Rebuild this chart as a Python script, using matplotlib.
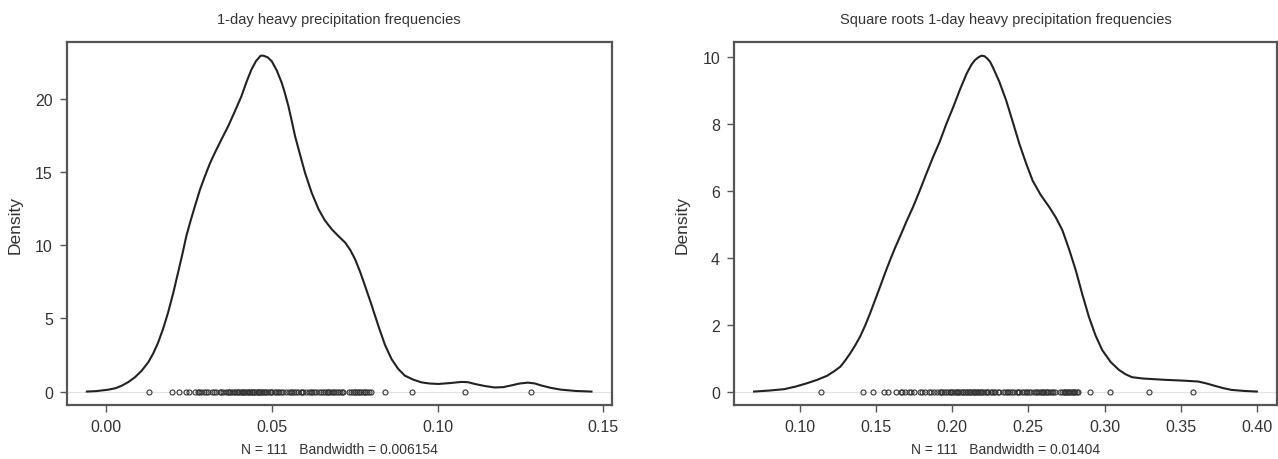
import numpy as np
import matplotlib
matplotlib.use("Agg")
import matplotlib.pyplot as plt

plt.rcParams['font.family'] = ['Liberation Sans', 'DejaVu Sans']

# density curve, 1-day heavy precipitation frequencies
dens_x = [-0.0058, -0.0030, 0.0007, 0.0030, 0.0047, 0.0067, 0.0087, 0.0107, 0.0127,
          0.0142, 0.0157, 0.0172, 0.0187, 0.0202, 0.0217, 0.0230, 0.0242, 0.0255,
          0.0268, 0.0283, 0.0298, 0.0313, 0.0328, 0.0348, 0.0368, 0.0388, 0.0408,
          0.0423, 0.0438, 0.0452, 0.0466, 0.0475, 0.0488, 0.0500, 0.0515, 0.0530,
          0.0540, 0.0550, 0.0560, 0.0570, 0.0585, 0.0600, 0.0620, 0.0641, 0.0660,
          0.0681, 0.0700, 0.0721, 0.0736, 0.0751, 0.0766, 0.0781, 0.0801, 0.0821,
          0.0841, 0.0861, 0.0881, 0.0901, 0.0926, 0.0951, 0.0976, 0.1002, 0.1037,
          0.1072, 0.1092, 0.1112, 0.1142, 0.1172, 0.1197, 0.1222, 0.1247, 0.1272,
          0.1292, 0.1312, 0.1342, 0.1372, 0.1417, 0.1464]
dens_y = [0.0, 0.03, 0.13, 0.24, 0.40, 0.65, 0.98, 1.42, 2.0,
          2.6, 3.36, 4.3, 5.41, 6.7, 8.14, 9.4, 10.64, 11.7,
          12.69, 13.8, 14.73, 15.6, 16.33, 17.25, 18.14, 19.15, 20.19,
          21.15, 22.01, 22.6, 22.97, 22.97, 22.85, 22.58, 21.95, 21.1,
          20.35, 19.51, 18.5, 17.46, 16.2, 14.96, 13.6, 12.46, 11.7,
          11.09, 10.65, 10.19, 9.7, 9.05, 8.2, 7.23, 5.9, 4.50,
          3.2, 2.22, 1.55, 1.09, 0.82, 0.63, 0.55, 0.52, 0.58,
          0.66, 0.64, 0.52, 0.38, 0.28, 0.30, 0.42, 0.55, 0.61,
          0.56, 0.42, 0.25, 0.13, 0.04, 0.0]

# density curve, square roots
sq_x = [0.0702, 0.0800, 0.0898, 0.0975, 0.1050, 0.1115, 0.1180, 0.1225, 0.1267,
        0.1300, 0.1332, 0.1365, 0.1397, 0.1430, 0.1462, 0.1495, 0.1528, 0.1560,
        0.1593, 0.1625, 0.1658, 0.1700, 0.1744, 0.1788, 0.1831, 0.1875, 0.1918,
        0.1963, 0.2007, 0.2050, 0.2094, 0.2125, 0.2150, 0.2172, 0.2192, 0.2211,
        0.2230, 0.2249, 0.2268, 0.2310, 0.2355, 0.2398, 0.2441, 0.2485, 0.2528,
        0.2580, 0.2637, 0.2680, 0.2723, 0.2767, 0.2811, 0.2854, 0.2897, 0.2940,
        0.2984, 0.3040, 0.3093, 0.3136, 0.3179, 0.3250, 0.3397, 0.3500, 0.3614,
        0.3670, 0.3723, 0.3780, 0.3831, 0.3910, 0.3998]
sq_y = [0.0, 0.03, 0.07, 0.15, 0.25, 0.35, 0.47, 0.60, 0.74,
        0.93, 1.14, 1.38, 1.64, 1.97, 2.33, 2.73, 3.13, 3.53,
        3.92, 4.28, 4.62, 5.07, 5.51, 6.0, 6.50, 7.0, 7.45,
        8.0, 8.49, 9.0, 9.48, 9.75, 9.90, 9.98, 10.03, 10.02,
        9.95, 9.85, 9.68, 9.25, 8.69, 8.05, 7.40, 6.82, 6.30,
        5.88, 5.51, 5.2, 4.82, 4.25, 3.62, 2.90, 2.23, 1.68,
        1.24, 0.88, 0.65, 0.52, 0.43, 0.39, 0.35, 0.33, 0.30,
        0.24, 0.17, 0.10, 0.05, 0.02, 0.0]

# observed frequencies (rug), N = 111
freq = [0.0130, 0.0842, 0.0922, 0.1082, 0.1281,
        0.0200, 0.0220, 0.0241, 0.0250,
        0.0267, 0.0277, 0.0286, 0.0296, 0.0306, 0.0320, 0.0331, 0.0342, 0.0353,
        0.0368, 0.0379, 0.0390, 0.0401, 0.0412, 0.0424, 0.0435, 0.0447, 0.0459,
        0.0471, 0.0483, 0.0496, 0.0508, 0.0521, 0.0534,
        0.0385, 0.0395, 0.0406, 0.0418, 0.0430, 0.0441, 0.0452, 0.0465, 0.0477,
        0.0489, 0.0458, 0.0470, 0.0440, 0.0415, 0.0500, 0.0512, 0.0375, 0.0362,
        0.0544, 0.0551, 0.0558, 0.0566, 0.0573, 0.0580, 0.0588, 0.0595, 0.0603,
        0.0611, 0.0618, 0.0626, 0.0634, 0.0642, 0.0649, 0.0560, 0.0590, 0.0620,
        0.0655, 0.0661, 0.0667, 0.0673, 0.0679, 0.0685, 0.0692, 0.0698, 0.0704,
        0.0710, 0.0716, 0.0670, 0.0688,
        0.0734, 0.0740, 0.0746, 0.0752, 0.0758, 0.0764, 0.0770, 0.0776, 0.0782,
        0.0788, 0.0794, 0.0799, 0.0750, 0.0762, 0.0780,
        0.0280, 0.0300, 0.0325, 0.0347, 0.0372, 0.0398, 0.0410, 0.0428, 0.0445,
        0.0462, 0.0480, 0.0493, 0.0517, 0.0528]
freq = np.array(freq)

titles = ["1-day heavy precipitation frequencies",
          "Square roots 1-day heavy precipitation frequencies"]
xlabels = ["N = 111   Bandwidth = 0.006154", "N = 111   Bandwidth = 0.01404"]
xticks_l = [0.00, 0.05, 0.10, 0.15]
yticks_l = [0, 5, 10, 15, 20]
xticks_r = [0.10, 0.15, 0.20, 0.25, 0.30, 0.35, 0.40]
yticks_r = [0, 2, 4, 6, 8, 10]

fig = plt.figure(figsize=(12.78, 4.6), dpi=100)
ax1 = fig.add_axes([0.0522, 0.1174, 0.4264, 0.7885])
ax2 = fig.add_axes([0.5743, 0.1174, 0.4249, 0.7885])

panels = [
    (ax1, dens_x, dens_y, freq, xticks_l, yticks_l),
    (ax2, sq_x, sq_y, np.sqrt(freq), xticks_r, yticks_r),
]

for i, (ax, cx, cy, rug, xt, yt) in enumerate(panels):
    ax.axhline(0, color='#e4e4e4', lw=0.8, zorder=0)
    ax.plot(cx, cy, color='#222222', lw=1.5, solid_joinstyle='round')
    ax.plot(rug, np.zeros_like(rug), 'o', mfc='none', mec='#333333',
            ms=3.6, mew=0.8)
    ax.margins(x=0.04, y=0.04)
    ax.set_xticks(xt)
    ax.set_yticks(yt)
    ax.xaxis.set_major_formatter(matplotlib.ticker.FormatStrFormatter('%.2f'))
    ax.tick_params(direction='out', length=5, width=1, colors='#555555',
                   labelcolor='#333333', labelsize=11.5, pad=5)
    for s in ax.spines.values():
        s.set_color('#555555')
        s.set_linewidth(1.6)
    ax.set_title(titles[i], fontsize=10.5, color='#333333', pad=14)
    ax.set_xlabel(xlabels[i], fontsize=10, color='#333333', labelpad=6)
    ax.set_ylabel("Density", fontsize=12.5, color='#333333', labelpad=9)

fig.savefig("out.png", dpi=100)
